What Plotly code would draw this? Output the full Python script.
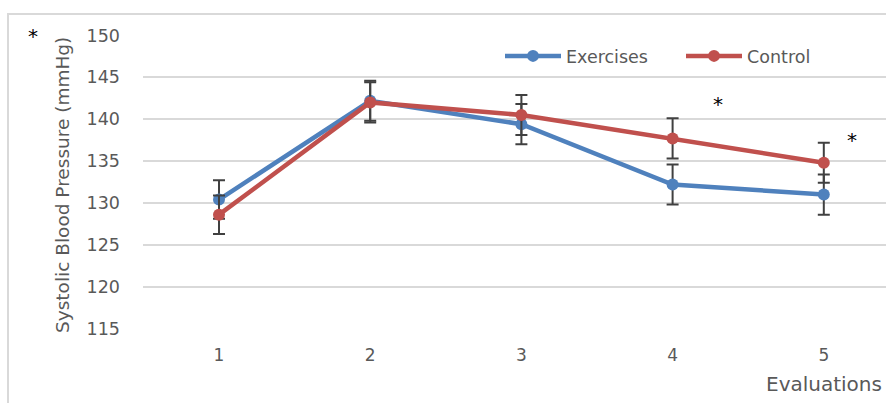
import plotly.graph_objects as go

evaluations = [1, 2, 3, 4, 5]
tick_labels = ["1", "2", "3", "4", "5"]
exercises = [130.4, 142.2, 139.4, 132.2, 131.0]
exercises_err = [2.3, 2.4, 2.4, 2.4, 2.4]
control = [128.6, 142.0, 140.5, 137.7, 134.8]
control_err = [2.3, 2.4, 2.4, 2.4, 2.4]
y_ticks = [115, 120, 125, 130, 135, 140, 145, 150]

W, H = 886, 403
L, R, T, B = 143, 886, 35, 329
FONT = "DejaVu Sans"
GRAY = "#595959"

def px_x(p):
    return (p - L) / (R - L)

def px_y(p):
    return (B - p) / (B - T)

fig = go.Figure()
fig.add_trace(go.Scatter(
    x=evaluations, y=exercises, name="Exercises", mode="lines+markers",
    line=dict(color="#4F81BD", width=4.5), marker=dict(size=12, color="#4F81BD"),
    error_y=dict(type="data", array=exercises_err, color="#404040", thickness=2, width=6),
))
fig.add_trace(go.Scatter(
    x=evaluations, y=control, name="Control", mode="lines+markers",
    line=dict(color="#C0504D", width=4.5), marker=dict(size=12, color="#C0504D"),
    error_y=dict(type="data", array=control_err, color="#404040", thickness=2, width=6),
))

unit = 151.2
x0 = 1 - (219 - L) / unit
x1 = x0 + (R - L) / unit

fig.update_layout(
    width=W, height=H,
    margin=dict(l=L, r=W - R, t=T, b=H - B, autoexpand=False),
    paper_bgcolor="white", plot_bgcolor="white",
    font=dict(family=FONT, color=GRAY, size=17),
    showlegend=True,
    legend=dict(orientation="h", x=px_x(500), y=px_y(56), xanchor="left", yanchor="middle",
                font=dict(size=17.5, color=GRAY), bgcolor="rgba(0,0,0,0)", entrywidth=110,
                itemwidth=56),
    xaxis=dict(range=[x0, x1], tickmode="array", tickvals=evaluations, ticktext=tick_labels,
               showgrid=False, zeroline=False, showline=False, ticks="",
               ticklabelstandoff=14, tickfont=dict(size=17, color=GRAY)),
    yaxis=dict(range=[114.95, 150.05], tickmode="array", tickvals=y_ticks,
               showgrid=True, gridcolor="#D9D9D9", gridwidth=1.5, zeroline=False,
               showline=False, ticks="", ticklabelstandoff=22,
               tickfont=dict(size=17.5, color=GRAY)),
)

fig.add_shape(type="rect", xref="paper", yref="paper",
              x0=px_x(8), x1=px_x(900), y0=px_y(420), y1=px_y(14),
              line=dict(color="#D9D9D9", width=2), layer="below")

fig.add_annotation(text="Systolic Blood Pressure (mmHg)", xref="paper", yref="paper",
                   x=px_x(62), y=px_y(185), textangle=-90, showarrow=False,
                   font=dict(size=18.5, color=GRAY), xanchor="center", yanchor="middle")
fig.add_annotation(text="Evaluations", xref="paper", yref="paper",
                   x=px_x(764), y=px_y(384), showarrow=False, xanchor="left", yanchor="middle",
                   font=dict(size=20, color=GRAY))
for ax_, ay_ in [(33, 36), (718, 104), (852, 140)]:
    fig.add_annotation(text="*", xref="paper", yref="paper", x=px_x(ax_), y=px_y(ay_),
                       showarrow=False, xanchor="center", yanchor="middle",
                       font=dict(size=20, color="black", family="DejaVu Sans"))

fig.write_html("out.html", config={"displayModeBar": False},
               post_script="document.body.style.margin='0';")
